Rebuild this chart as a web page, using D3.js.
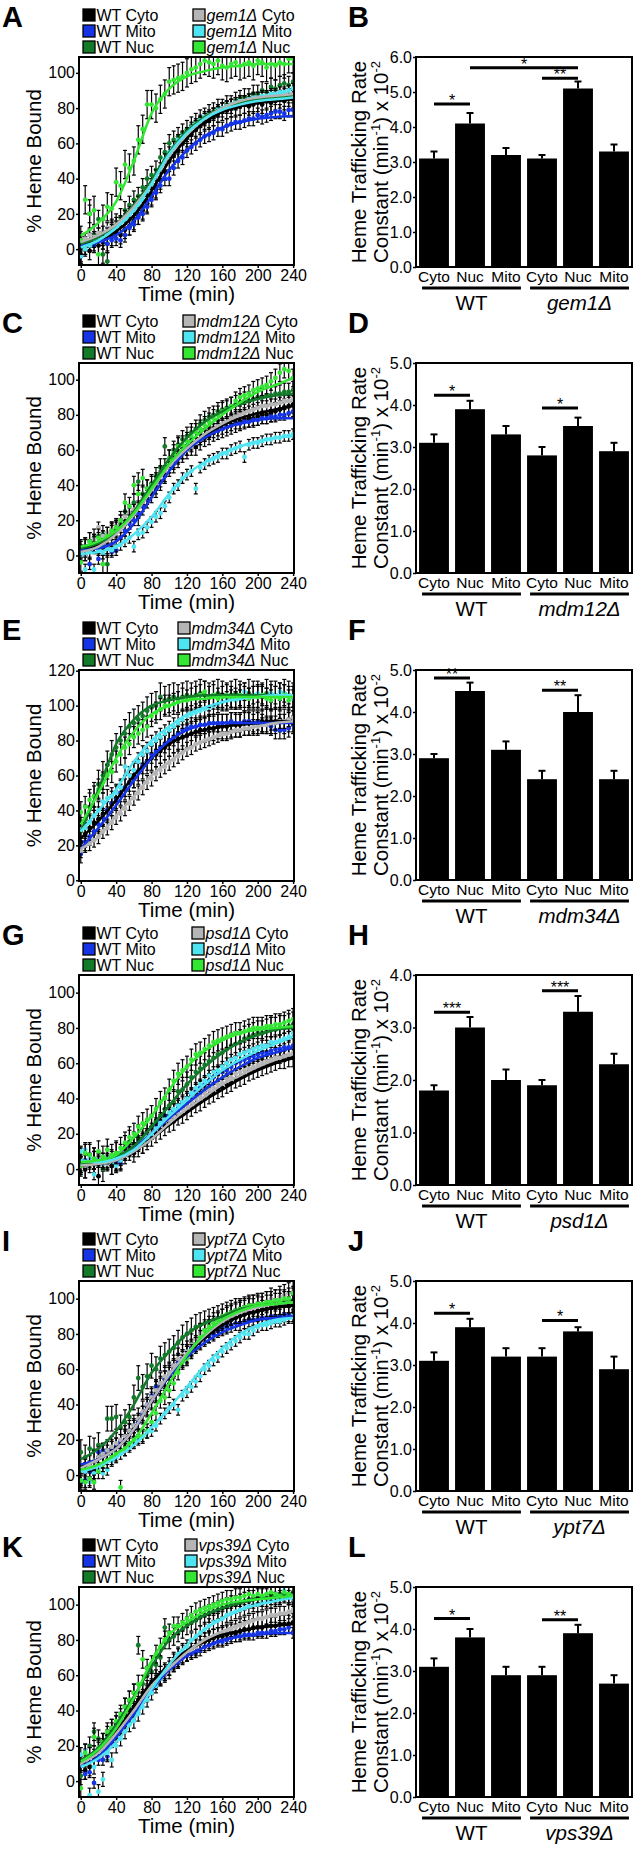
<!DOCTYPE html>
<html><head><meta charset="utf-8">
<script src="https://cdn.jsdelivr.net/npm/d3@7"></script>
<style>
body{margin:0;background:#fff}
svg text{font-family:"Liberation Sans",Arial,Helvetica,sans-serif;fill:#000}
</style>
</head><body>
<svg id="c" width="637" height="1850" xmlns="http://www.w3.org/2000/svg"></svg>
<script>
// ---------------- DATA ----------------
const times = [0,5,10,15,20,25,30,35,40,45,50,55,60,65,70,75,80,85,90,95,100,105,110,115,120,125,130,135,140,145,150,155,160,165,170,175,180,185,190,195,200,205,210,215,220,225,230,235,240];
const fitTimes = [0,20,40,60,80,100,120,140,160,180,200,220,240];
const xTicks = [0,40,80,120,160,200,240];
const yTicksStd = [0,20,40,60,80,100];
const yTicksE = [0,20,40,60,80,100,120];
const seriesLabels = ["Cyto","Mito","Nuc"];
const seriesColors = ["#000000","#1434e6","#137a2a","#b5b5b5","#4fe4f2","#33e633"];
const barCategories = ["Cyto","Nuc","Mito","Cyto","Nuc","Mito"];
const mutants = ["gem1\u0394","mdm12\u0394","mdm34\u0394","psd1\u0394","ypt7\u0394","vps39\u0394"];
const lineLetters = ["A","C","E","G","I","K"];
const barLetters = ["B","D","F","H","J","L"];

// Panel A (gem1)
const A_wtCyto = [-3,1,-1,4,2,5,3,7,9,8, 11,13,16,19,22,26,30,34,39,44, 50,53,56,60,63,65,68,70,72,73, 75,77,78,79,80,80,81,82,81,82, 83,82,84,83,84,85,84,86,85];
const A_wtMito = [-4,3,5,2,6,4,3,5,6,5, 8,12,14,18,20,24,28,32,36,40, 40,46,50,52,56,58,60,62,64,65, 66,68,68,70,71,72,72,73,74,74, 76,75,76,77,78,78,77,79,79];
const A_wtNuc = [5,2,20,8,17,-3,-7,12,15,18, 22,25,28,30,35,40,42,45,52,55, 60,62,64,66,68,70,72,74,75,77, 78,80,80,82,82,84,85,86,86,88, 88,90,89,92,91,93,94,93,95];
const A_mutCyto = [4,6,8,7,9,10,12,13,15,16, 19,21,24,27,30,33,37,40,44,48, 52,55,58,62,64,67,70,72,74,75, 77,78,80,81,82,83,84,84,85,85, 86,86,86,87,87,87,88,88,88];
const A_mutMito = [-4,0,2,4,5,6,9,11,13,15, 17,20,22,25,28,33,37,42,46,51, 55,58,62,64,66,69,71,73,75,76, 77,79,80,81,82,83,84,84,85,86, 86,87,87,88,88,89,89,90,91];
const A_mutNuc = [5,28,20,22,-3,17,24,23,38,36, 48,46,50,62,68,82,82,80,85,88, 95,96,97,98,100,102,103,105,107,106, 105,107,104,103,105,106,104,105,106,104, 107,106,103,105,104,106,105,108,108];
const A_fitWtCyto = [2,5,10,19,33,50,63,72,78,81,83,84,85];
const A_fitWtMito = [2,4,8,16,30,45,56,64,69,72,74,75,75.5];
const A_fitWtNuc = [3,7,14,25,39,55,67,75,80,83,85,86,87];
const A_fitMutCyto = [4,8,14,24,37,53,65,74,80,84,86,87,88];
const A_fitMutMito = [1,5,12,22,37,54,66,74,79,82,84,85,86];
const A_fitMutNuc = [7.5,15,27,50,77,91,98,101,103,104,105,105,105];
const A_err = [5,4,5,3,3,8];

// Panel C (mdm12)
const C_wtCyto = [4,5,3,7,6,9,4,12,14,16, 18,20,25,22,28,32,35,38,42,46, 50,52,55,58,60,62,62,65,67,68, 70,71,72,73,74,75,76,77,78,78, 79,80,80,81,82,83,84,85,86];
const C_wtMito = [3,0,-5,5,-2,6,4,2,3,10, 14,18,20,24,28,32,36,38,42,45, 50,53,56,58,60,63,64,66,68,69, 70,71,72,73,74,75,75,76,76,77, 77,78,78,79,79,80,80,81,82];
const C_wtNuc = [3,5,8,10,11,12,-5,14,15,18, 25,24,30,42,35,38,41,45,50,62, 55,60,63,66,68,70,72,75,77,79, 80,82,83,84,85,86,87,88,88,89, 90,90,91,91,92,92,93,93,94];
const C_mutCyto = [2,0,6,9,16,11,13,15,17,20, 22,24,26,28,32,35,38,42,45,48, 50,52,55,58,60,62,64,66,68,70, 72,74,75,76,78,79,80,81,82,83, 84,85,85,86,86,87,88,88,89];
const C_mutMito = [0,-8,2,-8,3,1,4,3,5,6, 8,10,5,12,13,16,19,22,24,28, 33,38,40,44,46,48,38,50,52,54, 55,56,58,58,60,61,62,56,63,64, 64,65,66,66,67,67,68,68,69];
const C_mutNuc = [-4,4,8,6,10,-5,11,14,16,20, 30,28,40,35,44,38,40,42,46,50, 55,58,62,63,65,68,70,72,74,76, 78,80,82,83,85,88,90,91,92,94, 95,96,97,99,101,104,106,105,101];
const C_fitWtCyto = [3,6,13,24,38,52,61,68,74,78,81,83,85];
const C_fitWtMito = [3,4,8,18,33,48,60,67,72,75,77,78,78];
const C_fitWtNuc = [4,7,13,25,40,55,67,76,82,86,89,91,92];
const C_fitMutCyto = [2,5,12,23,37,51,61,69,75,80,84,86,88];
const C_fitMutMito = [1,2,5,12,22,35,46,53,58,62,65,67,68];
const C_fitMutNuc = [5,8,14,24,38,52,63,72,80,87,93,97,101];
const C_err = [5,3,5,3,3,5];

// Panel E (mdm34)
const E_wtCyto = [22,26,30,33,35,38,40,44,47,50, 53,56,60,62,65,68,70,72,74,76, 78,80,81,82,83,84,85,86,86,87, 87,88,88,88,89,89,89,90,90,90, 90,91,91,91,91,92,91,92,92];
const E_wtMito = [15,22,25,28,32,36,40,44,46,50, 53,56,58,62,66,68,72,74,76,78, 80,82,84,86,87,88,88,89,89,90, 90,90,90,90,91,90,90,91,91,90, 91,90,89,88,86,86,86,87,89];
const E_wtNuc = [28,35,42,48,55,60,66,72,76,80, 84,88,90,92,94,97,99,100,105,103, 104,105,104,105,106,105,106,107,106,105, 106,107,106,105,106,107,106,105,107,106, 106,105,107,106,106,105,107,106,105];
const E_mutCyto = [17,20,21,23,25,28,30,33,36,38, 41,44,47,50,53,56,58,61,63,65, 67,69,71,73,75,76,78,79,80,81, 82,83,84,84,85,86,86,87,87,88, 88,89,89,90,90,91,91,92,93];
const E_mutMito = [29,30,33,37,40,45,47,48,50,53, 65,60,63,68,72,74,78,80,82,84, 86,88,90,92,94,95,96,97,98,99, 100,101,102,103,104,103,104,108,105,106, 107,106,105,107,106,108,107,106,104];
const E_mutNuc = [39,42,46,48,52,56,60,62,68,72, 76,78,82,84,86,88,94,96,98,100, 100,101,102,104,103,104,105,106,108,105, 106,104,105,106,105,104,106,105,104,105, 105,106,104,103,105,104,106,103,105];
const E_fitWtCyto = [24,34,46,60,70,78,83,86,88,89,90,91,91];
const E_fitWtMito = [18,30,43,57,70,80,86,89,90,90,90,90,90];
const E_fitWtNuc = [28,52,78,92,100,103,105,106,106,106,106,106,106];
const E_fitMutCyto = [18,25,37,48,60,68,75,80,83,86,88,90,91];
const E_fitMutMito = [28,40,52,68,80,88,95,99,102,104,105,106,106];
const E_fitMutNuc = [32,50,70,85,95,100,103,104,105,105,105,105,105];
const E_err = [7,5,8,4,5,6];

// Panel G (psd1)
const G_wtCyto = [2,0,3,5,-4,4,6,2,3,5, 8,10,9,12,14,16,18,20,22,24, 26,27,30,31,33,35,37,38,40,42, 43,45,46,48,49,51,52,53,55,56, 57,58,59,60,61,62,62,63,63];
const G_wtMito = [3,5,4,6,5,3,4,6,4,3, 10,12,14,15,17,19,22,25,27,30, 30,33,36,38,40,42,44,46,48,50, 52,54,55,56,58,60,61,62,63,64, 65,66,66,67,68,68,69,69,70];
const G_wtNuc = [5,2,8,5,3,0,6,4,9,7, 12,15,14,18,16,20,24,27,30,34, 36,38,44,45,48,52,55,57,59,61, 63,65,66,68,70,71,72,74,75,76, 77,77,78,79,79,80,80,81,82];
const G_mutCyto = [1,2,5,3,4,6,3,5,2,6, 9,11,12,14,17,19,21,23,25,27, 28,30,32,34,36,38,40,41,43,45, 46,48,49,51,52,54,55,56,57,58, 59,60,61,62,63,63,64,65,66];
const G_mutMito = [10,11,6,-3,5,3,6,4,2,5, 8,10,12,13,16,18,20,23,26,28, 32,34,36,38,40,43,46,48,50,53, 55,56,58,60,62,63,65,66,67,68, 69,70,70,72,72,73,74,75,77];
const G_mutNuc = [2,9,8,6,10,7,11,8,9,12, 15,18,20,24,26,28,30,34,38,40, 45,50,54,56,58,62,65,66,68,70, 72,73,74,75,76,77,77,78,79,80, 80,80,81,81,82,82,83,84,85];
const G_fitWtCyto = [2,3,5,10,17,25,32,39,45,51,56,60,63];
const G_fitWtMito = [3,4,6,12,20,29,37,45,52,58,63,66,69];
const G_fitWtNuc = [3,4,7,13,24,36,48,58,66,72,76,79,80];
const G_fitMutCyto = [2,3,5,10,17,26,34,41,48,53,58,62,65];
const G_fitMutMito = [5,4,6,11,20,30,39,48,56,62,67,71,75];
const G_fitMutNuc = [4,5,8,18,30,45,58,67,73,77,79,80,81];
const G_err = [5,4,7,3,3,6];

// Panel I (ypt7)
const I_wtCyto = [0,2,2,3,10,12,14,15,16,18, 20,24,26,30,34,38,42,46,50,54, 56,60,64,66,68,72,74,76,78,80, 82,84,85,86,88,89,90,91,92,92, 93,94,94,95,95,96,97,96,97];
const I_wtMito = [-4,-3,2,1,13,14,13,15,17,19, 22,25,28,30,35,40,45,50,52,55, 58,62,64,66,70,72,74,76,78,79, 80,82,83,84,85,86,86,87,88,88, 88,89,89,90,90,90,91,91,90];
const I_wtNuc = [13,10,15,14,17,11,32,32,33,27, 30,33,44,55,50,56,62,60,66,68, 70,72,75,78,80,82,84,85,86,87, 88,89,90,91,92,93,93,94,95,95, 96,96,97,97,98,98,98,99,99];
const I_mutCyto = [0,3,5,8,10,12,14,16,18,20, 22,25,28,32,36,40,44,48,52,56, 58,62,66,68,70,74,77,80,82,84, 86,87,88,90,91,92,93,94,95,96, 96,97,98,100,99,101,102,103,104];
const I_mutMito = [-3,2,-4,1,4,1,3,8,10,12, 14,16,18,20,22,24,25,28,32,35, 38,40,37,45,47,50,53,56,60,62, 65,67,70,72,74,76,78,80,80,82, 84,85,85,86,87,87,88,89,90];
const I_mutNuc = [-3,-4,-2,-4,2,6,8,10,12,-7, 15,18,20,22,22,25,30,35,42,44, 48,52,58,64,66,70,74,78,82,84, 86,88,90,91,92,93,94,95,96,96, 97,97,98,98,99,99,100,100,103];
const I_fitWtCyto = [5,9,15,26,42,56,68,78,85,90,93,95,96];
const I_fitWtMito = [6,9,15,26,42,56,67,75,81,85,88,89,90];
const I_fitWtNuc = [9,15,25,40,58,70,80,86,90,94,96,97,98];
const I_fitMutCyto = [4,9,15,26,42,57,69,79,87,92,95,97,98];
const I_fitMutMito = [2,5,10,17,27,38,50,62,72,80,85,88,89];
const I_fitMutNuc = [3,6,12,20,35,52,68,80,88,93,96,97,98];
const I_err = [5,4,7,6,3,4];

// Panel K (vps39)
const K_wtCyto = [10,6,8,13,18,22,24,28,32,34, 38,40,42,46,50,52,56,58,60,62, 65,68,70,72,73,75,76,78,79,80, 81,82,82,83,84,84,85,86,86,87, 87,87,88,88,88,89,89,89,90];
const K_wtMito = [9,4,5,-1,12,12,14,22,25,30, 34,36,38,42,45,48,52,55,58,60, 63,65,67,70,71,72,73,74,76,77, 78,79,79,80,81,82,82,83,83,83, 84,84,84,85,85,86,86,87,84];
const K_wtNuc = [3,13,20,28,24,22,26,30,32,36, 42,46,50,77,55,60,62,66,70,87, 80,82,84,86,88,90,91,93,94,95, 96,97,98,99,100,100,101,102,103,103, 104,104,104,105,105,106,106,106,107];
const K_mutCyto = [10,14,15,16,18,20,22,26,28,30, 34,38,40,44,48,50,54,56,58,60, 62,66,68,70,72,74,76,78,80,81, 82,83,84,85,86,87,88,89,90,91, 92,92,93,94,94,95,95,96,97];
const K_mutMito = [15,17,-8,8,-6,1,16,12,20,24, 28,32,34,38,42,46,50,54,58,62, 64,68,72,74,76,80,82,84,86,88, 90,91,92,94,95,96,97,98,99,100, 100,101,102,102,103,104,108,104,103];
const K_mutNuc = [-4,16,14,25,19,22,28,30,34,38, 42,46,50,55,69,64,66,72,76,80, 84,88,88,90,92,94,96,97,98,99, 100,101,102,103,103,104,104,105,106,105, 106,105,106,107,106,105,107,106,105];
const K_fitWtCyto = [10,17,28,42,56,66,74,79,83,85,87,88,89];
const K_fitWtMito = [8,14,25,38,52,63,71,76,80,82,83,84,84];
const K_fitWtNuc = [12,19,32,48,65,80,88,94,98,101,103,104,105];
const K_fitMutCyto = [10,16,27,40,54,64,73,80,85,89,92,94,96];
const K_fitMutMito = [8,13,22,35,52,66,77,86,92,97,100,102,104];
const K_fitMutNuc = [11,18,30,47,68,83,90,96,100,102,103,104,105];
const K_err = [5,3,5,4,4,5];

// Bar charts: Cyto, Nuc, Mito (WT) then Cyto, Nuc, Mito (mutant)
const B_values = [3.1,4.1,3.2,3.1,5.1,3.3];
const B_errors = [0.2,0.3,0.2,0.1,0.2,0.2];
const D_values = [3.1,3.9,3.3,2.8,3.5,2.9];
const D_errors = [0.2,0.2,0.2,0.2,0.2,0.2];
const F_values = [2.9,4.5,3.1,2.4,4.0,2.4];
const F_errors = [0.1,0.2,0.2,0.2,0.4,0.2];
const H_values = [1.8,3.0,2.0,1.9,3.3,2.3];
const H_errors = [0.1,0.2,0.2,0.1,0.3,0.2];
const J_values = [3.1,3.9,3.2,3.2,3.8,2.9];
const J_errors = [0.2,0.2,0.2,0.2,0.1,0.3];
const L_values = [3.1,3.8,2.9,2.9,3.9,2.7];
const L_errors = [0.2,0.2,0.2,0.2,0.2,0.2];
// significance: [from bar, to bar, level, label]
const B_sig = [[0,1,4.66,"*"],[1,4,5.69,"*"],[3,4,5.39,"**"]];
const D_sig = [[0,1,4.23,"*"],[3,4,3.93,"*"]];
const F_sig = [[0,1,4.81,"**"],[3,4,4.52,"**"]];
const H_sig = [[0,1,3.29,"***"],[3,4,3.70,"***"]];
const J_sig = [[0,1,4.23,"*"],[3,4,4.06,"*"]];
const L_sig = [[0,1,4.25,"*"],[3,4,4.22,"**"]];
const barMax = [6,5,5,4,5,5];

// ---------------- LAYOUT ----------------
const panels = [
  {top:57,  yDomain:[-9,109],  yTicks:yTicksStd, leg2:193, fh:208,
   pts:[A_wtCyto,A_wtMito,A_wtNuc,A_mutCyto,A_mutMito,A_mutNuc],
   fits:[A_fitWtCyto,A_fitWtMito,A_fitWtNuc,A_fitMutCyto,A_fitMutMito,A_fitMutNuc], err:A_err,
   bars:B_values, barErr:B_errors, sig:B_sig},
  {top:363, yDomain:[-10,109.5], yTicks:yTicksStd, leg2:183, fh:210,
   pts:[C_wtCyto,C_wtMito,C_wtNuc,C_mutCyto,C_mutMito,C_mutNuc],
   fits:[C_fitWtCyto,C_fitWtMito,C_fitWtNuc,C_fitMutCyto,C_fitMutMito,C_fitMutNuc], err:C_err,
   bars:D_values, barErr:D_errors, sig:D_sig},
  {top:670, yDomain:[-0.4,120.4], yTicks:yTicksE, leg2:178, fh:211,
   pts:[E_wtCyto,E_wtMito,E_wtNuc,E_mutCyto,E_mutMito,E_mutNuc],
   fits:[E_fitWtCyto,E_fitWtMito,E_fitWtNuc,E_fitMutCyto,E_fitMutMito,E_fitMutNuc], err:E_err,
   bars:F_values, barErr:F_errors, sig:F_sig},
  {top:975, yDomain:[-9,110], yTicks:yTicksStd, leg2:192, fh:210,
   pts:[G_wtCyto,G_wtMito,G_wtNuc,G_mutCyto,G_mutMito,G_mutNuc],
   fits:[G_fitWtCyto,G_fitWtMito,G_fitWtNuc,G_fitMutCyto,G_fitMutMito,G_fitMutNuc], err:G_err,
   bars:H_values, barErr:H_errors, sig:H_sig},
  {top:1281, yDomain:[-9,110], yTicks:yTicksStd, leg2:193, fh:210,
   pts:[I_wtCyto,I_wtMito,I_wtNuc,I_mutCyto,I_mutMito,I_mutNuc],
   fits:[I_fitWtCyto,I_fitWtMito,I_fitWtNuc,I_fitMutCyto,I_fitMutMito,I_fitMutNuc], err:I_err,
   bars:J_values, barErr:J_errors, sig:J_sig},
  {top:1587, yDomain:[-9,110], yTicks:yTicksStd, leg2:185, fh:210,
   pts:[K_wtCyto,K_wtMito,K_wtNuc,K_mutCyto,K_mutMito,K_mutNuc],
   fits:[K_fitWtCyto,K_fitWtMito,K_fitWtNuc,K_fitMutCyto,K_fitMutMito,K_fitMutNuc], err:K_err,
   bars:L_values, barErr:L_errors, sig:L_sig}
];

const svg = d3.select("#c");
svg.append("rect").attr("width",637).attr("height",1850).attr("fill","#fff");
const LX0 = 79, LX1 = 294, BX0 = 416, BX1 = 632;
const TICKFS = 16;

panels.forEach((p, pi) => {
  const top = p.top, fh = p.fh, bot = top + fh;
  const mut = mutants[pi];
  const g = svg.append("g");

  // panel letters
  g.append("text").attr("x",2).attr("y",top-30).attr("font-size",29).attr("font-weight","bold").text(lineLetters[pi]);
  g.append("text").attr("x",348).attr("y",top-30).attr("font-size",29).attr("font-weight","bold").text(barLetters[pi]);

  // legend
  const rowsY = [top-42, top-26, top-10];
  const leg = g.append("g");
  [0,1].forEach(col => {
    const sx = col === 0 ? 83 : p.leg2;
    seriesLabels.forEach((lab, r) => {
      const si = col*3 + r;
      leg.append("rect").attr("x",sx).attr("y",rowsY[r]-6).attr("width",12).attr("height",12)
        .attr("fill",seriesColors[si]).attr("stroke","#000").attr("stroke-width",1.3);
      const t = leg.append("text").attr("x",sx+13.5).attr("y",rowsY[r]+6).attr("font-size",16);
      if (col === 0) t.text("WT " + lab);
      else { t.append("tspan").attr("font-style","italic").text(mut); t.append("tspan").text(" " + lab); }
    });
  });

  // ---- time course ----
  const x = d3.scaleLinear().domain([-2,241]).range([LX0,LX1]);
  const y = d3.scaleLinear().domain(p.yDomain).range([bot, top]);
  const clipId = "clip" + pi;
  g.append("clipPath").attr("id",clipId).append("rect").attr("x",LX0).attr("y",top).attr("width",LX1-LX0).attr("height",fh);
  const plot = g.append("g").attr("clip-path",`url(#${clipId})`);

  p.pts.forEach((vals, si) => {
    const e = p.err[si];
    const sg = plot.append("g");
    const data = vals.map((v,i) => ({t:times[i], v:v}));
    sg.selectAll("line.eb").data(data).join("line").attr("class","eb")
      .attr("x1",d=>x(d.t)).attr("x2",d=>x(d.t)).attr("y1",d=>y(d.v-e)).attr("y2",d=>y(d.v+e))
      .attr("stroke","#000").attr("stroke-width",1.2);
    sg.selectAll("line.cap").data(data).join("line").attr("class","cap")
      .attr("x1",d=>x(d.t)-2).attr("x2",d=>x(d.t)+2).attr("y1",d=>y(d.v+e)).attr("y2",d=>y(d.v+e))
      .attr("stroke","#000").attr("stroke-width",1.2);
    sg.selectAll("line.cap2").data(data).join("line").attr("class","cap2")
      .attr("x1",d=>x(d.t)-2).attr("x2",d=>x(d.t)+2).attr("y1",d=>y(d.v-e)).attr("y2",d=>y(d.v-e))
      .attr("stroke","#000").attr("stroke-width",1.2);
    sg.selectAll("circle").data(data).join("circle")
      .attr("cx",d=>x(d.t)).attr("cy",d=>y(d.v)).attr("r",2.4).attr("fill",seriesColors[si]);
  });
  const lineGen = d3.line().x(d=>x(d.t)).y(d=>y(d.v)).curve(d3.curveMonotoneX);
  p.fits.forEach((f, si) => {
    plot.append("path").datum(f.map((v,i)=>({t:fitTimes[i], v:v})))
      .attr("d",lineGen).attr("fill","none").attr("stroke",seriesColors[si]).attr("stroke-width",2.5);
  });

  // axes
  const ya = g.append("g").attr("transform",`translate(${LX0},0)`)
    .call(d3.axisLeft(y).tickValues(p.yTicks).tickSize(3).tickPadding(1));
  ya.select(".domain").remove();
  ya.selectAll("text").attr("font-size",TICKFS).attr("font-family",null);
  ya.selectAll("line").attr("stroke-width",1.5);
  const xa = g.append("g").attr("transform",`translate(0,${bot})`)
    .call(d3.axisBottom(x).tickValues(xTicks).tickSize(3).tickPadding(1.5));
  xa.select(".domain").remove();
  xa.selectAll("text").attr("font-size",TICKFS).attr("font-family",null);
  xa.selectAll("line").attr("stroke-width",1.5);
  g.append("rect").attr("x",LX0).attr("y",top).attr("width",LX1-LX0).attr("height",fh)
    .attr("fill","none").attr("stroke","#000").attr("stroke-width",2);
  g.append("text").attr("x",(LX0+LX1)/2).attr("y",bot+36).attr("text-anchor","middle").attr("font-size",20.5).text("Time (min)");
  g.append("text").attr("transform",`translate(41,${top+fh/2}) rotate(-90)`).attr("text-anchor","middle")
    .attr("font-size",20.5).text("% Heme Bound");

  // ---- bar chart ----
  const bbot = top + 210;
  const xb = d3.scaleBand().domain(d3.range(6)).range([BX0,BX1]).paddingInner(0.17).paddingOuter(0.085);
  const yb = d3.scaleLinear().domain([0, barMax[pi]]).range([bbot, top]);
  const bw = xb.bandwidth();
  const bg = g.append("g");
  bg.selectAll("rect.bar").data(p.bars).join("rect").attr("class","bar")
    .attr("x",(d,i)=>xb(i)).attr("y",d=>yb(d)).attr("width",bw).attr("height",d=>bbot-yb(d)).attr("fill","#000");
  bg.selectAll("line.be").data(p.bars).join("line").attr("class","be")
    .attr("x1",(d,i)=>xb(i)+bw/2).attr("x2",(d,i)=>xb(i)+bw/2)
    .attr("y1",d=>yb(d)).attr("y2",(d,i)=>yb(d+p.barErr[i])).attr("stroke","#000").attr("stroke-width",2);
  bg.selectAll("line.bc").data(p.bars).join("line").attr("class","bc")
    .attr("x1",(d,i)=>xb(i)+bw/2-3.5).attr("x2",(d,i)=>xb(i)+bw/2+3.5)
    .attr("y1",(d,i)=>yb(d+p.barErr[i])).attr("y2",(d,i)=>yb(d+p.barErr[i])).attr("stroke","#000").attr("stroke-width",2);
  // significance
  p.sig.forEach(s => {
    const x1 = xb(s[0])+bw/2, x2 = xb(s[1])+bw/2, yy = yb(s[2]);
    bg.append("line").attr("x1",x1).attr("x2",x2).attr("y1",yy).attr("y2",yy).attr("stroke","#000").attr("stroke-width",3);
    bg.append("text").attr("x",(x1+x2)/2).attr("y",yy+2).attr("text-anchor","middle").attr("font-size",16).text(s[3]);
  });
  const yba = bg.append("g").attr("transform",`translate(${BX0},0)`)
    .call(d3.axisLeft(yb).ticks(barMax[pi]).tickFormat(d3.format(".1f")).tickSize(3).tickPadding(1));
  yba.select(".domain").remove();
  yba.selectAll("text").attr("font-size",TICKFS).attr("font-family",null);
  yba.selectAll("line").attr("stroke-width",1.5);
  const xba = bg.append("g").attr("transform",`translate(0,${bbot})`)
    .call(d3.axisBottom(xb).tickFormat(i=>barCategories[i]).tickSize(0).tickPadding(4));
  xba.select(".domain").remove();
  xba.selectAll("text").attr("font-size",15.5).attr("font-family",null);
  bg.append("rect").attr("x",BX0).attr("y",top).attr("width",BX1-BX0).attr("height",210)
    .attr("fill","none").attr("stroke","#000").attr("stroke-width",2);
  // group underlines and labels
  [[0,2,"WT",false],[3,5,mut,true]].forEach(gr => {
    const gx1 = xb(gr[0])+3, gx2 = xb(gr[1])+bw;
    bg.append("line").attr("x1",gx1).attr("x2",gx2).attr("y1",bbot+21).attr("y2",bbot+21).attr("stroke","#000").attr("stroke-width",3);
    bg.append("text").attr("x",(gx1+gx2)/2).attr("y",bbot+43).attr("text-anchor","middle").attr("font-size",20.5)
      .attr("font-style",gr[3]?"italic":null).text(gr[2]);
  });
  // y title (two lines)
  bg.append("text").attr("transform",`translate(366,${top+105}) rotate(-90)`).attr("text-anchor","middle").attr("font-size",20.5)
    .text("Heme Trafficking Rate");
  const yt2 = bg.append("text").attr("transform",`translate(388,${top+105}) rotate(-90)`).attr("text-anchor","middle").attr("font-size",20.5);
  yt2.append("tspan").text("Constant (min");
  yt2.append("tspan").attr("dy",-8).attr("font-size",13).text("-1");
  yt2.append("tspan").attr("dy",8).text(") x 10");
  yt2.append("tspan").attr("dy",-8).attr("font-size",13).text("-2");
});
</script>
</body></html>
